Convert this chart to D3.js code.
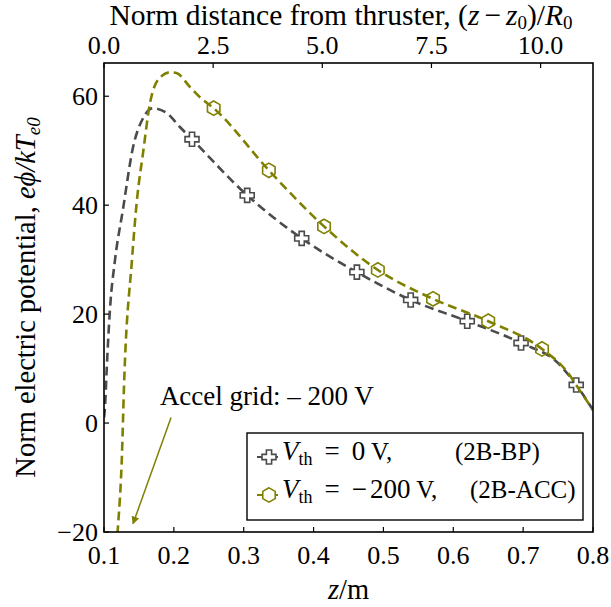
<!DOCTYPE html>
<html>
<head>
<meta charset="utf-8">
<script src="https://cdn.jsdelivr.net/npm/d3@7"></script>
<style>
  body { margin: 0; background: #fff; }
  svg text { font-family: "Liberation Serif", "DejaVu Serif", serif; fill: #000; }
</style>
</head>
<body>
<svg id="chart" width="611" height="607"></svg>
<script>
// --- data ---
// 2B-BP, V_th = 0 V (grey, plus markers)
const bpZ = [0.100, 0.1014, 0.1038, 0.1086, 0.1157, 0.127, 0.1415, 0.156, 0.170, 0.190, 0.209,
  0.226, 0.305, 0.383, 0.462, 0.539, 0.620, 0.697, 0.750, 0.776, 0.800];
const bpV = [1.0, 2.9, 9.7, 21.0, 29.9, 39.1, 50.6, 56.0, 57.8, 56.9, 54.3,
  52.1, 41.8, 33.9, 27.7, 22.6, 18.7, 14.7, 11.0, 7.0, 2.4];
const bpMarks = [11, 12, 13, 14, 15, 16, 17, 19];

// 2B-ACC, V_th = -200 V (olive, hexagon markers)
const accZ = [0.1175, 0.120, 0.1258, 0.1286, 0.140, 0.1472, 0.1558, 0.1658, 0.1773, 0.1945, 0.2045,
  0.223, 0.2374, 0.257, 0.336, 0.415, 0.492, 0.571, 0.650, 0.727, 0.763, 0.781, 0.800];
const accV = [-23, -19, -5.5, 6.6, 29.9, 41, 49.5, 58.7, 63, 64.4, 64.2,
  61.7, 59.8, 57.8, 46.4, 36.1, 28.1, 22.8, 18.7, 13.6, 9.4, 6.0, 2.4];
const accMarks = [13, 14, 15, 16, 17, 18, 19];

const xTicks = [0.1, 0.2, 0.3, 0.4, 0.5, 0.6, 0.7, 0.8];
const yTicks = [-20, 0, 20, 40, 60];
const topTicks = [0.0, 2.5, 5.0, 7.5, 10.0];
const z0 = 0.1, R0 = 0.0625;

// annotation: text anchor, arrow tail, arrow tip (data coords)
const noteText = [0.180, 3.3];
const noteArrow = [[0.196, 1.0], [0.1415, -18.5]];

// --- layout ---
const dms = { left: 104, right: 593, top: 63, bottom: 532 };
const grey = "#4b4b4b", olive = "#808000";

const svg = d3.select("#chart");
const x = d3.scaleLinear().domain([0.1, 0.8]).range([dms.left, dms.right]);
const y = d3.scaleLinear().domain([-20, 66.1]).range([dms.bottom, dms.top]);
const xTop = d3.scaleLinear()
  .domain([(0.1 - z0) / R0, (0.8 - z0) / R0])
  .range([dms.left, dms.right]);

svg.append("defs").append("clipPath").attr("id", "clip")
  .append("rect")
  .attr("x", dms.left).attr("y", dms.top)
  .attr("width", dms.right - dms.left).attr("height", dms.bottom - dms.top);

svg.select("defs").append("marker")
  .attr("id", "arrow")
  .attr("viewBox", "0 0 10 10").attr("refX", 9).attr("refY", 5)
  .attr("markerWidth", 8).attr("markerHeight", 8)
  .attr("markerUnits", "userSpaceOnUse")
  .attr("orient", "auto")
  .append("path").attr("d", "M0,0L10,5L0,10z").attr("fill", olive);

// marker shapes
const plusPath = (s, w) =>
  `M${-w},${-s}H${w}V${-w}H${s}V${w}H${w}V${s}H${-w}V${w}H${-s}V${-w}H${-w}Z`;
const hexPath = (r) => {
  const pts = d3.range(6).map((i) => {
    const a = Math.PI / 2 + (i * Math.PI) / 3;
    return [r * Math.cos(a), -r * Math.sin(a)];
  });
  return "M" + pts.map((p) => p.join(",")).join("L") + "Z";
};

const lineGenerator = d3.line()
  .x((d) => x(d[0]))
  .y((d) => y(d[1]))
  .curve(d3.curveMonotoneX);

const plot = svg.append("g").attr("clip-path", "url(#clip)");

const series = [
  { z: bpZ, v: bpV, marks: bpMarks, color: grey, shape: plusPath(7, 2.6), fill: "#fff" },
  { z: accZ, v: accV, marks: accMarks, color: olive, shape: hexPath(7.2), fill: "none" },
];

series.forEach((s) => {
  const pts = s.z.map((z, i) => [z, s.v[i]]);
  plot.append("path")
    .attr("d", lineGenerator(pts))
    .attr("fill", "none")
    .attr("stroke", s.color)
    .attr("stroke-width", 2.6)
    .attr("stroke-dasharray", "9,5");
  plot.selectAll(null)
    .data(s.marks.map((i) => pts[i]))
    .enter()
    .append("path")
    .attr("d", s.shape)
    .attr("transform", (d) => `translate(${x(d[0])},${y(d[1])})`)
    .attr("fill", s.fill)
    .attr("stroke", s.color)
    .attr("stroke-width", 1.6);
});

// --- axes ---
const tickLen = 5;
const tickFont = 26;
const titleFont = 28.5;
const subFont = 19;

// frame
svg.append("rect")
  .attr("x", dms.left).attr("y", dms.top)
  .attr("width", dms.right - dms.left).attr("height", dms.bottom - dms.top)
  .attr("fill", "none").attr("stroke", "#000").attr("stroke-width", 1.6);

// bottom
svg.selectAll(".xtick").data(xTicks).enter().append("line")
  .attr("x1", x).attr("x2", x)
  .attr("y1", dms.bottom).attr("y2", dms.bottom - tickLen)
  .attr("stroke", "#000").attr("stroke-width", 1.2);
svg.selectAll(".xlabel").data(xTicks).enter().append("text")
  .attr("x", x).attr("y", dms.bottom + 32)
  .attr("text-anchor", "middle").attr("font-size", tickFont)
  .text(d3.format(".1f"));

// left
svg.selectAll(".ytick").data(yTicks).enter().append("line")
  .attr("x1", dms.left).attr("x2", dms.left + tickLen)
  .attr("y1", y).attr("y2", y)
  .attr("stroke", "#000").attr("stroke-width", 1.2);
svg.selectAll(".ylabel").data(yTicks).enter().append("text")
  .attr("x", dms.left - 6).attr("y", (d) => y(d) + 9)
  .attr("text-anchor", "end").attr("font-size", tickFont)
  .text((d) => (d < 0 ? "\u2212" + Math.abs(d) : d));

// top
svg.selectAll(".ttick").data(topTicks).enter().append("line")
  .attr("x1", xTop).attr("x2", xTop)
  .attr("y1", dms.top).attr("y2", dms.top + tickLen)
  .attr("stroke", "#000").attr("stroke-width", 1.2);
svg.selectAll(".tlabel").data(topTicks).enter().append("text")
  .attr("x", xTop).attr("y", dms.top - 9)
  .attr("text-anchor", "middle").attr("font-size", tickFont)
  .text(d3.format(".1f"));

// axis titles
const xTitle = svg.append("text")
  .attr("x", (dms.left + dms.right) / 2).attr("y", 599)
  .attr("text-anchor", "middle").attr("font-size", titleFont);
xTitle.append("tspan").attr("font-style", "italic").text("z");
xTitle.append("tspan").text("/m");

const topTitle = svg.append("text")
  .attr("x", 341).attr("y", 25)
  .attr("text-anchor", "middle").attr("font-size", 29.5);
topTitle.append("tspan").text("Norm distance from thruster, (");
topTitle.append("tspan").attr("font-style", "italic").text("z");
topTitle.append("tspan").attr("dx", 5).text("\u2212");
topTitle.append("tspan").attr("dx", 5).attr("font-style", "italic").text("z");
topTitle.append("tspan").attr("font-size", subFont).attr("dy", 4).text("0");
topTitle.append("tspan").attr("dy", -4).text(")/");
topTitle.append("tspan").attr("font-style", "italic").text("R");
topTitle.append("tspan").attr("font-size", subFont).attr("dy", 4).text("0");

const yTitle = svg.append("text")
  .attr("transform", `translate(35,${(dms.top + dms.bottom) / 2}) rotate(-90)`)
  .attr("text-anchor", "middle").attr("font-size", titleFont);
yTitle.append("tspan").text("Norm electric potential, ");
yTitle.append("tspan").attr("font-style", "italic").text("e\u03d5/kT");
yTitle.append("tspan").attr("font-style", "italic").attr("font-size", subFont).attr("dy", 5).text("e0");

// --- annotation ---
svg.append("text")
  .attr("x", x(noteText[0])).attr("y", y(noteText[1]))
  .attr("font-size", 27)
  .text("Accel grid: \u2013 200 V");
svg.append("line")
  .attr("x1", x(noteArrow[0][0])).attr("y1", y(noteArrow[0][1]))
  .attr("x2", x(noteArrow[1][0])).attr("y2", y(noteArrow[1][1]))
  .attr("stroke", olive).attr("stroke-width", 1.5)
  .attr("marker-end", "url(#arrow)");

// --- legend ---
const legend = svg.append("g").attr("transform", "translate(247,433)");
legend.append("rect")
  .attr("width", 336).attr("height", 87)
  .attr("fill", "#fff").attr("stroke", "#000").attr("stroke-width", 1.4);

const legendRows = [
  { volt: ["0"], tag: "(2B-BP)", tagX: 208 },
  { volt: ["\u2212", "200"], tag: "(2B-ACC)", tagX: 223 },
];
const legendFont = 25;
const mathFont = 27;
legendRows.forEach((row, i) => {
  const s = series[i];
  const gy = 24 + i * 38;
  const g = legend.append("g").attr("transform", `translate(0,${gy})`);
  g.append("line")
    .attr("x1", 10).attr("x2", 33).attr("y1", 0).attr("y2", 0)
    .attr("stroke", s.color).attr("stroke-width", 2.2)
    .attr("stroke-dasharray", "9,3,3,3,3,3");
  g.append("path")
    .attr("d", s.shape).attr("transform", "translate(22,0)")
    .attr("fill", s.fill === "none" ? "#fff" : s.fill)
    .attr("stroke", s.color).attr("stroke-width", 1.6);
  const t = g.append("text").attr("x", 35).attr("y", 3).attr("font-size", mathFont);
  t.append("tspan").attr("font-style", "italic").text("V");
  t.append("tspan").attr("font-size", 18).attr("dy", 5).text("th");
  t.append("tspan").attr("dy", -5).attr("dx", 12).text("=");
  row.volt.forEach((part, k) => {
    t.append("tspan").attr("dx", k === 0 ? 12 : 3).text(part);
  });
  t.append("tspan").attr("font-size", legendFont).text(" V,");
  g.append("text").attr("x", row.tagX).attr("y", 3)
    .attr("font-size", legendFont)
    .text(row.tag);
});
</script>
</body>
</html>
